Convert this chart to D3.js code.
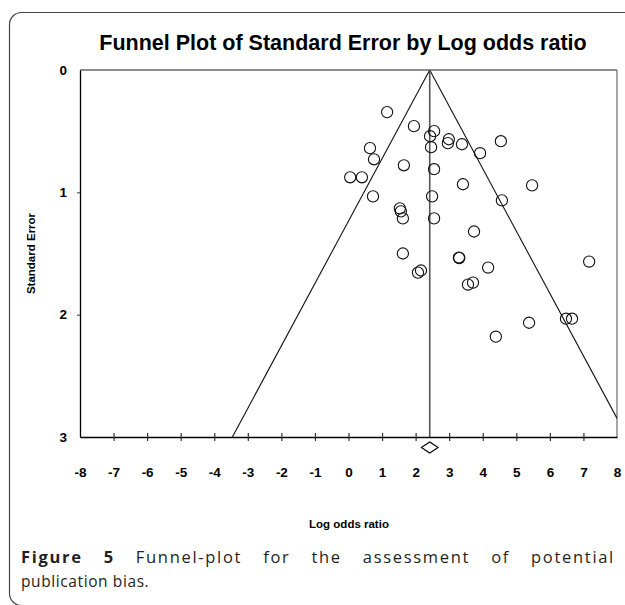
<!DOCTYPE html>
<html>
<head>
<meta charset="utf-8">
<script src="https://cdn.jsdelivr.net/npm/d3@7/dist/d3.min.js"></script>
<style>
  html, body { margin: 0; padding: 0; background: #fff; }
  svg { display: block; }
</style>
</head>
<body>
<div id="chart"></div>
<script>
// ---- data ----
const logOdds = [1.15, 1.95, 2.55, 2.43, 2.46, 2.99, 2.96, 3.38, 3.92, 4.54,
                 0.64, 0.76, 1.65, 0.05, 0.40, 2.55, 0.73, 2.49, 3.41, 4.57,
                 5.47, 1.53, 1.56, 1.62, 2.55, 3.74, 1.62, 2.07, 2.16, 3.29,
                 3.30, 4.16, 3.56, 3.71, 7.17, 5.38, 6.48, 6.66, 4.39];
const stdErr  = [0.344, 0.459, 0.500, 0.541, 0.631, 0.566, 0.598, 0.607, 0.680, 0.582,
                 0.639, 0.730, 0.779, 0.877, 0.877, 0.811, 1.033, 1.033, 0.934, 1.066,
                 0.943, 1.131, 1.156, 1.213, 1.213, 1.320, 1.500, 1.656, 1.639, 1.533,
                 1.537, 1.615, 1.754, 1.738, 1.566, 2.066, 2.033, 2.033, 2.180];
const pooledEstimate = 2.42;
const pooledCI = [2.17, 2.67];
const xTickValues = [-8, -7, -6, -5, -4, -3, -2, -1, 0, 1, 2, 3, 4, 5, 6, 7, 8];
const yTickValues = [0, 1, 2, 3];
const titleText = "Funnel Plot of Standard Error by Log odds ratio";
const xTitle = "Log odds ratio";
const yTitle = "Standard Error";

// ---- layout ----
const W = 625, H = 605;
const plot = { left: 80, right: 617, top: 70, bottom: 437 };

const svg = d3.select("#chart").append("svg")
  .attr("width", W).attr("height", H);

// outer rounded frame
svg.append("rect")
  .attr("x", 9.5).attr("y", 12.5)
  .attr("width", 660).attr("height", 593)
  .attr("rx", 12).attr("ry", 12)
  .attr("fill", "none").attr("stroke", "#444").attr("stroke-width", 1.2);

const x = d3.scaleLinear().domain([-8, 8]).range([plot.left, plot.right]);
const y = d3.scaleLinear().domain([0, 3]).range([plot.top, plot.bottom]);

const arial = "'Liberation Sans', Arial, Helvetica, sans-serif";

// title
svg.append("text")
  .attr("x", 343).attr("y", 50)
  .attr("text-anchor", "middle")
  .attr("font-family", arial).attr("font-weight", "bold")
  .attr("font-size", 21.5).attr("fill", "#000")
  .text(titleText);

// clip
svg.append("clipPath").attr("id", "clip")
  .append("rect")
  .attr("x", plot.left).attr("y", plot.top)
  .attr("width", plot.right - plot.left).attr("height", plot.bottom - plot.top);

// box top & right (gray)
svg.append("line").attr("x1", plot.left).attr("x2", plot.right)
  .attr("y1", plot.top).attr("y2", plot.top)
  .attr("stroke", "#666").attr("stroke-width", 1.3);
svg.append("line").attr("x1", plot.right).attr("x2", plot.right)
  .attr("y1", plot.top).attr("y2", plot.bottom)
  .attr("stroke", "#777").attr("stroke-width", 1.3);

// funnel lines
const g = svg.append("g").attr("clip-path", "url(#clip)");
[-1, 1].forEach(s => {
  g.append("line")
    .attr("x1", x(pooledEstimate)).attr("y1", y(0))
    .attr("x2", x(pooledEstimate + s * 1.96 * 3)).attr("y2", y(3))
    .attr("stroke", "#111").attr("stroke-width", 1.1);
});

// mean line
svg.append("line")
  .attr("x1", x(pooledEstimate)).attr("x2", x(pooledEstimate))
  .attr("y1", y(0)).attr("y2", y(3))
  .attr("stroke", "#555").attr("stroke-width", 1.6);

// points
const pts = logOdds.map((v, i) => ({ x: v, y: stdErr[i] }));
svg.append("g").selectAll("circle").data(pts).join("circle")
  .attr("cx", d => x(d.x)).attr("cy", d => y(d.y))
  .attr("r", 5.6)
  .attr("fill", "none").attr("stroke", "#111").attr("stroke-width", 1.1);

// x axis
const xAxis = svg.append("g")
  .attr("transform", `translate(0,${plot.bottom})`)
  .call(d3.axisBottom(x).tickValues(xTickValues).tickSizeInner(0).tickSizeOuter(0).tickPadding(30).tickFormat(d3.format("d")));
xAxis.select(".domain").attr("stroke", "#000").attr("stroke-width", 1.3);
xAxis.selectAll(".tick").append("line")
  .attr("y1", -4).attr("y2", 4)
  .attr("stroke", "#333").attr("stroke-width", 1.2)
  .attr("display", d => (d === -8 || d === 8) ? "none" : null);
xAxis.selectAll(".tick text")
  .attr("font-family", arial).attr("font-weight", "bold")
  .attr("font-size", 13.5).attr("fill", "#000")
  .text(d => d < 0 ? "-" + Math.abs(d) : String(d));

// y axis
const yAxis = svg.append("g")
  .attr("transform", `translate(${plot.left},0)`)
  .call(d3.axisLeft(y).tickValues(yTickValues).tickSizeInner(3).tickSizeOuter(0).tickPadding(10).tickFormat(d3.format("d")));
yAxis.select(".domain").attr("stroke", "#000").attr("stroke-width", 1.3);
yAxis.selectAll(".tick line").attr("stroke", "#333")
  .attr("display", d => (d === 0 || d === 3) ? "none" : null);
yAxis.selectAll(".tick text")
  .attr("font-family", arial).attr("font-weight", "bold")
  .attr("font-size", 13.5).attr("fill", "#000");

// pooled diamond
const dy = 447.5;
const diamond = [[x(pooledCI[0]), dy], [x(pooledEstimate), dy - 5.5], [x(pooledCI[1]), dy], [x(pooledEstimate), dy + 5.5]];
svg.append("path")
  .attr("d", d3.line()(diamond) + "Z")
  .attr("fill", "none").attr("stroke", "#000").attr("stroke-width", 1.1);

// axis titles
svg.append("text")
  .attr("x", (plot.left + plot.right) / 2 + 0.5).attr("y", 528)
  .attr("text-anchor", "middle")
  .attr("font-family", arial).attr("font-weight", "bold")
  .attr("font-size", 11.5).attr("fill", "#000")
  .text(xTitle);
svg.append("text")
  .attr("transform", `translate(35,${(plot.top + plot.bottom) / 2}) rotate(-90)`)
  .attr("text-anchor", "middle")
  .attr("font-family", arial).attr("font-weight", "bold")
  .attr("font-size", 11.5).attr("fill", "#000")
  .text(yTitle);

// caption
const capFont = "'Open Sans', 'Noto Sans', sans-serif";
const cap1 = svg.append("text")
  .attr("x", 21).attr("y", 563)
  .attr("font-family", capFont).attr("font-size", 16.5).attr("fill", "#231f20")
  .attr("letter-spacing", 1.7);
cap1.append("tspan").attr("font-weight", "bold").text("Figure 5");
cap1.append("tspan").text(" Funnel-plot for the assessment of potential");
// justify line 1 to right edge ~615 with word spacing
const len = cap1.node().getComputedTextLength();
const extra = (615 - 21) - len;
if (extra > 0) cap1.attr("word-spacing", extra / 7);

svg.append("text")
  .attr("x", 21).attr("y", 587)
  .attr("font-family", capFont).attr("font-size", 15.5).attr("fill", "#231f20")
  .attr("letter-spacing", 0.6)
  .text("publication bias.");
</script>
</body>
</html>
